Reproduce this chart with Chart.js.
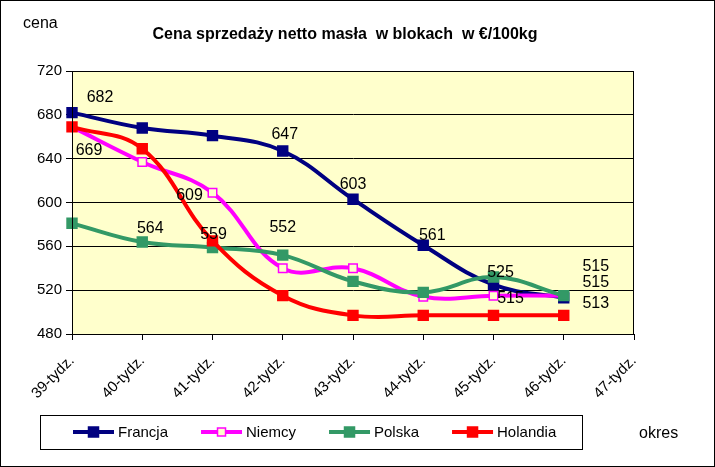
<!DOCTYPE html>
<html><head><meta charset="utf-8">
<style>html,body{margin:0;padding:0;background:#fff}#wrap{width:715px;height:467px;position:relative}</style>
<script src="https://cdn.jsdelivr.net/npm/chart.js@4.4.1/dist/chart.umd.min.js"></script>
</head><body><div id="wrap"><canvas id="c" width="715" height="467"></canvas></div>
<script>
// ---- data ----
const weeks = ['39-tydz.','40-tydz.','41-tydz.','42-tydz.','43-tydz.','44-tydz.','45-tydz.','46-tydz.','47-tydz.'];
const francja  = [682, 668, 661, 647, 603, 561, 525, 513, null];
const niemcy   = [669, 637, 609, 540, 540, 514, 515, 515, null];
const polska   = [581, 564, 559, 552, 528, 518, 532, 515, null];
const holandia = [669, 649, 565, 515, 497, 497, 497, 497, null];
const seriesNames = ['Francja','Niemcy','Polska','Holandia'];
const yTicks = [480, 520, 560, 600, 640, 680, 720];
// which points carry a value label
const francjaLabels  = [1,0,0,1,1,1,1,1,0];
const niemcyLabels   = [1,0,1,0,0,0,1,1,0];
const polskaLabels   = [0,1,1,1,0,0,0,1,0];
const holandiaLabels = [0,0,0,0,0,0,0,0,0];

// ---- style (label offsets in px relative to point) ----
const labelOffsets = [
  [[28,-16],null,null,[2,-17],[0,-16],[9,-11],[7,-13],[32,5],null],
  [[17,23],null,[-23,2],null,null,null,[17,2],[32,-14],null],
  [null,[8,-14],[1,-14],[0,-29],null,null,null,[32,-30],null],
  [null,null,null,null,null,null,null,null,null]
];
const showLabels = [francjaLabels, niemcyLabels, polskaLabels, holandiaLabels];
const FONT = '"Liberation Sans", Arial, sans-serif';
const PLOT_BG = '#FFFFCC';

const decor = {
  id: 'decor',
  beforeDraw(chart) {
    const ctx = chart.ctx, a = chart.chartArea;
    ctx.save();
    ctx.fillStyle = '#fff';
    ctx.fillRect(0, 0, chart.width, chart.height);
    ctx.fillStyle = PLOT_BG;
    ctx.fillRect(a.left, a.top, a.right - a.left, a.bottom - a.top);
    ctx.restore();
  },
  afterDatasetsDraw(chart) {
    const ctx = chart.ctx;
    ctx.save();
    ctx.fillStyle = '#000';
    ctx.font = '16px ' + FONT;
    ctx.textAlign = 'center';
    ctx.textBaseline = 'middle';
    chart.data.datasets.forEach((ds, i) => {
      const meta = chart.getDatasetMeta(i);
      meta.data.forEach((pt, j) => {
        if (!showLabels[i][j] || ds.data[j] == null) return;
        const off = labelOffsets[i][j] || [0, -15];
        ctx.fillText(String(ds.data[j]), pt.x + off[0], pt.y + off[1] + 1);
      });
    });
    ctx.restore();
  },
  afterDraw(chart) {
    const ctx = chart.ctx, a = chart.chartArea;
    ctx.save();
    // plot border
    ctx.strokeStyle = '#000'; ctx.lineWidth = 1;
    ctx.strokeRect(Math.round(a.left) + 0.5, Math.round(a.top) + 0.5, Math.round(a.right - a.left) - 1, Math.round(a.bottom - a.top));
    // outer frame
    ctx.strokeRect(0.5, 0.5, chart.width - 1, chart.height - 1);
    // title
    ctx.fillStyle = '#000';
    ctx.textBaseline = 'alphabetic';
    ctx.textAlign = 'center';
    ctx.font = 'bold 16px ' + FONT;
    ctx.fillText('Cena sprzedaży netto masła  w blokach  w €/100kg', 345, 39);
    ctx.textAlign = 'left';
    ctx.font = '16px ' + FONT;
    ctx.fillText('cena', 23, 28);
    ctx.fillText('okres', 639, 438);
    // legend
    ctx.strokeRect(40.5, 415.5, 542, 34);
    ctx.font = '15px ' + FONT;
    ctx.textBaseline = 'middle';
    let x = 73;
    const y = 432;
    chart.data.datasets.forEach((ds) => {
      ctx.strokeStyle = ds.borderColor;
      ctx.lineWidth = 4;
      ctx.beginPath(); ctx.moveTo(x, y); ctx.lineTo(x + 41, y); ctx.stroke();
      const s = ds.legendMarker;
      ctx.fillStyle = ds.pointBackgroundColor;
      ctx.fillRect(x + 20.5 - s / 2, y - s / 2, s, s);
      ctx.lineWidth = ds.pointBorderWidth;
      ctx.strokeStyle = ds.pointBorderColor;
      ctx.strokeRect(x + 20.5 - s / 2, y - s / 2, s, s);
      ctx.fillStyle = '#000';
      ctx.fillText(ds.label, x + 45, y + 1);
      x += 45 + ctx.measureText(ds.label).width + 33;
    });
    ctx.restore();
  }
};

function mk(label, data, color, fill, r, order) {
  return {
    label, data, borderColor: color, backgroundColor: color,
    borderWidth: 4, tension: 0.4,
    pointStyle: 'rect', pointRadius: r, pointHoverRadius: r,
    pointBackgroundColor: fill, pointBorderColor: color, pointBorderWidth: 1.5,
    legendMarker: Math.round(r * 1.414),
    order, spanGaps: false
  };
}

new Chart(document.getElementById('c'), {
  type: 'line',
  data: {
    labels: weeks,
    datasets: [
      mk(seriesNames[0], francja, '#000080', '#000080', 7, 4),
      mk(seriesNames[1], niemcy, '#FF00FF', PLOT_BG, 6, 3),
      mk(seriesNames[2], polska, '#339966', '#339966', 7, 2),
      mk(seriesNames[3], holandia, '#FF0000', '#FF0000', 7, 1)
    ]
  },
  options: {
    responsive: false,
    devicePixelRatio: 1,
    animation: false,
    layout: { padding: { top: 71, right: 81, left: 0, bottom: 0 } },
    plugins: { legend: { display: false }, title: { display: false }, tooltip: { enabled: false } },
    scales: {
      x: {
        type: 'category',
        offset: false,
        grid: { drawOnChartArea: false, drawTicks: true, tickLength: 6, color: '#000' },
        border: { display: true, color: '#000' },
        ticks: { autoSkip: false, maxRotation: 45, minRotation: 45, color: '#000', font: { family: FONT, size: 15 }, padding: 12 },
        afterFit(s) { s.height = 133; }
      },
      y: {
        min: 480, max: 720,
        afterBuildTicks(s) { s.ticks = yTicks.map(v => ({ value: v })); },
        grid: { color: '#000', tickLength: 6, lineWidth: 1 },
        border: { display: true, color: '#000' },
        ticks: { color: '#000', font: { family: FONT, size: 15 }, padding: 4 },
        afterFit(s) { s.width = 72; }
      }
    }
  },
  plugins: [decor]
});
</script></body></html>
